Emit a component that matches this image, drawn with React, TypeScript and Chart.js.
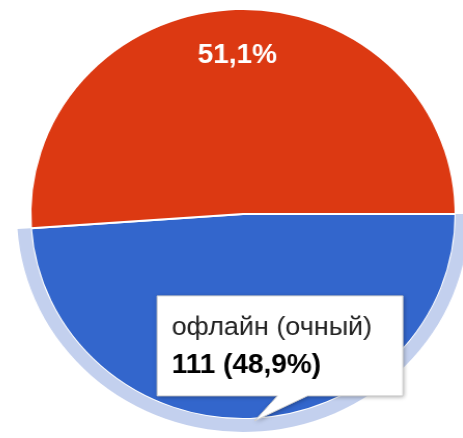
import React, { useEffect, useRef } from 'react';
import { Chart, registerables } from 'chart.js';

Chart.register(...registerables);

// ---- data ----
const categories = ['офлайн (очный)', 'онлайн (дистанционный)'];
const counts = [111, 116];
const sliceColors = ['#3366cc', '#dc3912'];
const highlightColors = ['#c3d0ee', 'rgba(0,0,0,0)'];
const highlightedIndex = 0;

const FONT = 'Arial, "Liberation Sans", sans-serif';

const pct = (v: number, total: number) => (v / total * 100).toFixed(1).replace('.', ',') + '%';

const sliceLabels = {
  id: 'sliceLabels',
  afterDatasetsDraw(chart: any) {
    const meta = chart.getDatasetMeta(1);
    const ctx = chart.ctx;
    const total = counts.reduce((a, b) => a + b, 0);
    meta.data.forEach((arc: any, i: number) => {
      const { x, y, startAngle, endAngle, outerRadius } = arc.getProps(['x', 'y', 'startAngle', 'endAngle', 'outerRadius'], true);
      const mid = (startAngle + endAngle) / 2;
      const r = outerRadius * 0.785;
      const px = x + Math.cos(mid) * r;
      const py = y + Math.sin(mid) * r;
      ctx.save();
      ctx.font = 'bold 27px ' + FONT;
      ctx.fillStyle = '#ffffff';
      ctx.textAlign = 'center';
      ctx.textBaseline = 'alphabetic';
      ctx.fillText(pct(counts[i], total), px, py + 10);
      ctx.restore();
    });
  },
};

const calloutTooltip = {
  id: 'calloutTooltip',
  afterDraw(chart: any) {
    const meta = chart.getDatasetMeta(1);
    const arc = meta.data[highlightedIndex];
    if (!arc) return;
    const ctx = chart.ctx;
    const total = counts.reduce((a, b) => a + b, 0);
    const { x, y, startAngle, endAngle, outerRadius } = arc.getProps(['x', 'y', 'startAngle', 'endAngle', 'outerRadius'], true);
    const mid = (startAngle + endAngle) / 2;
    const ax = x + Math.cos(mid) * (outerRadius + 2);
    const ay = y + Math.sin(mid) * (outerRadius + 2);
    const boxL = ax - 90;
    const boxT = ay - 125;
    const boxW = 237;
    const boxH = 100;
    const boxB = boxT + boxH;
    ctx.save();
    ctx.beginPath();
    ctx.moveTo(boxL, boxT);
    ctx.lineTo(boxL + boxW, boxT);
    ctx.lineTo(boxL + boxW, boxB);
    ctx.lineTo(ax + 55, boxB);
    ctx.lineTo(ax + 4, ay);
    ctx.lineTo(ax + 26, boxB);
    ctx.lineTo(boxL, boxB);
    ctx.closePath();
    ctx.shadowColor = 'rgba(0,0,0,0.35)';
    ctx.shadowBlur = 4;
    ctx.shadowOffsetX = 1;
    ctx.shadowOffsetY = 1;
    ctx.fillStyle = '#ffffff';
    ctx.fill();
    ctx.shadowColor = 'rgba(0,0,0,0)';
    ctx.lineWidth = 1;
    ctx.strokeStyle = '#cccccc';
    ctx.stroke();

    ctx.textAlign = 'left';
    ctx.textBaseline = 'alphabetic';
    ctx.fillStyle = '#222222';
    ctx.font = '26px ' + FONT;
    ctx.fillText(categories[highlightedIndex], boxL + 14, boxT + 39);
    ctx.fillStyle = '#000000';
    ctx.font = 'bold 27px ' + FONT;
    ctx.fillText(counts[highlightedIndex] + ' (' + pct(counts[highlightedIndex], total) + ')', boxL + 14, boxT + 77);
    ctx.restore();
  },
};

export default function App() {
  const canvasRef = useRef<HTMLCanvasElement | null>(null);

  useEffect(() => {
    if (!canvasRef.current) return;
    const chart = new Chart(canvasRef.current, {
      type: 'pie',
      data: {
        labels: categories,
        datasets: [
          {
            data: counts,
            backgroundColor: highlightColors,
            borderWidth: 0,
            weight: 13,
            hoverOffset: 0,
          } as any,
          {
            data: counts,
            backgroundColor: sliceColors,
            borderColor: '#ffffff',
            borderWidth: 2,
            weight: 205,
            hoverOffset: 0,
          } as any,
        ],
      },
      options: {
        animation: false,
        responsive: true,
        maintainAspectRatio: false,
        events: [],
        rotation: 90,
        radius: 218,
        layout: { padding: 0 },
        plugins: {
          legend: { display: false },
          tooltip: { enabled: false },
        },
      } as any,
      plugins: [sliceLabels, calloutTooltip],
    });
    return () => chart.destroy();
  }, []);

  return (
    <div style={{ position: 'fixed', left: 0, top: 0, width: 463, height: 438, overflow: 'hidden', background: '#ffffff' }}>
      <div
        style={{
          position: 'absolute',
          left: -7,
          top: -36,
          width: 500,
          height: 500,
          transform: 'scaleX(1.037)',
          transformOrigin: '250px 250px',
        }}
      >
        <canvas ref={canvasRef} />
      </div>
    </div>
  );
}
